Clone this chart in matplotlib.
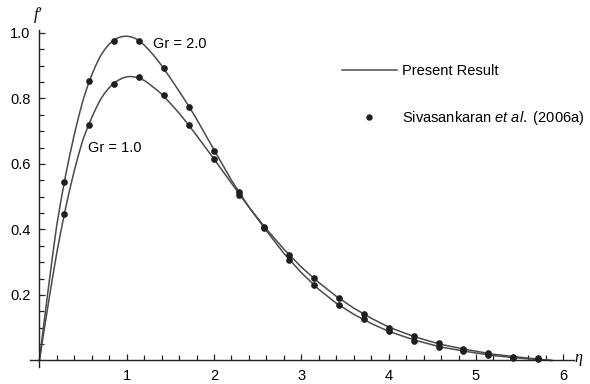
import numpy as np
import matplotlib
matplotlib.use("Agg")
import matplotlib.pyplot as plt
from matplotlib.lines import Line2D

plt.rcParams['font.family'] = ['Liberation Sans', 'DejaVu Sans']
plt.rcParams['mathtext.fontset'] = 'custom'
plt.rcParams['mathtext.rm'] = 'Liberation Sans'
plt.rcParams['mathtext.it'] = 'Liberation Sans:italic'

# present result curves
eta_line = [0, 0.05, 0.1, 0.15, 0.2, 0.25, 0.3, 0.35, 0.4, 0.45, 0.5, 0.55, 0.6,
            0.65, 0.7, 0.75, 0.8, 0.85, 0.9, 0.95, 1.0, 1.05, 1.1, 1.15, 1.2, 1.25,
            1.3, 1.35, 1.4, 1.5, 1.6, 1.7, 1.8, 1.9, 2.0, 2.2, 2.4, 2.6, 2.8, 3.0,
            3.2, 3.4, 3.6, 3.8, 4.0, 4.3, 4.6, 4.9, 5.2, 5.5, 5.87]
f_gr2_line = [0, 0.11, 0.215, 0.318, 0.415, 0.493, 0.565, 0.63, 0.69, 0.745, 0.795,
              0.836, 0.872, 0.903, 0.93, 0.95, 0.966, 0.977, 0.985, 0.989, 0.99,
              0.988, 0.983, 0.974, 0.963, 0.949, 0.934, 0.918, 0.9, 0.862, 0.822,
              0.781, 0.737, 0.69, 0.643, 0.55, 0.468, 0.396, 0.327, 0.268, 0.217,
              0.175, 0.141, 0.113, 0.089, 0.062, 0.041, 0.027, 0.015, 0.007, 0.0]
f_gr1_line = [0, 0.086, 0.17, 0.252, 0.33, 0.4, 0.465, 0.525, 0.58, 0.63, 0.675,
              0.71, 0.742, 0.771, 0.797, 0.817, 0.833, 0.846, 0.855, 0.862, 0.866,
              0.867, 0.865, 0.861, 0.855, 0.846, 0.835, 0.825, 0.813, 0.785, 0.755,
              0.722, 0.687, 0.651, 0.615, 0.541, 0.468, 0.401, 0.34, 0.285, 0.238,
              0.196, 0.16, 0.129, 0.102, 0.072, 0.049, 0.033, 0.019, 0.01, 0.0]

# Sivasankaran et al. (2006a) points
eta_pts = [0.286, 0.571, 0.857, 1.143, 1.429, 1.714, 2.0, 2.286, 2.571, 2.857,
           3.143, 3.429, 3.714, 4.0, 4.286, 4.571, 4.857, 5.143, 5.429, 5.714]
f_gr2_pts = [0.545, 0.853, 0.976, 0.976, 0.892, 0.775, 0.64, 0.514, 0.405, 0.307,
             0.23, 0.169, 0.126, 0.090, 0.060, 0.040, 0.030, 0.016, 0.008, 0.005]
f_gr1_pts = [0.447, 0.718, 0.843, 0.864, 0.81, 0.719, 0.615, 0.505, 0.408, 0.322,
             0.251, 0.19, 0.141, 0.100, 0.076, 0.052, 0.035, 0.022, 0.012, 0.007]

line_col = '#4a4a4a'
dot_col = '#1e1e1e'

fig = plt.figure(figsize=(5.9, 3.84), dpi=100)
ax = fig.add_axes([0.0505, 0.045, 0.922, 0.877])

ax.plot(eta_line, f_gr2_line, color=line_col, lw=1.1)
ax.plot(eta_line, f_gr1_line, color=line_col, lw=1.1)
ax.plot(eta_pts, f_gr2_pts, 'o', color=dot_col, ms=3.8)
ax.plot(eta_pts, f_gr1_pts, 'o', color=dot_col, ms=3.8)

ax.set_xlim(-0.11, 6.12)
ax.set_ylim(-0.019, 1.009)
ax.spines['top'].set_visible(False)
ax.spines['right'].set_visible(False)
ax.spines['left'].set_position(('data', 0))
ax.spines['bottom'].set_position(('data', 0))
for s in ('left', 'bottom'):
    ax.spines[s].set_color('#222222')
    ax.spines[s].set_linewidth(1.0)

ax.set_xticks([1, 2, 3, 4, 5, 6])
ax.set_xticks(np.arange(0.2, 6.01, 0.2), minor=True)
ax.set_yticks([0.2, 0.4, 0.6, 0.8, 1.0])
ax.set_yticks(np.arange(0.05, 1.001, 0.05), minor=True)
ax.set_yticklabels(['0.2', '0.4', '0.6', '0.8', '1.0'])
ax.tick_params(which='both', direction='in', color='#222222', width=0.9)
ax.tick_params(which='major', length=4.5, labelsize=10.5)
ax.tick_params(axis='x', which='major', pad=6)
ax.tick_params(axis='y', which='major', pad=6.5)
ax.tick_params(which='minor', length=3.5)

ax.text(1.3, 0.965, 'Gr = 2.0', fontsize=10.5, va='center', ha='left')
ax.text(0.56, 0.65, 'Gr = 1.0', fontsize=10.5, va='center', ha='left')

fig.text(38 / 590, 1 - 15 / 384, 'f\u2032', fontsize=12, style='italic',
         family=['Liberation Serif', 'DejaVu Serif'], ha='center', va='center')
fig.text(578 / 590, 1 - 358 / 384, '\u03b7', fontsize=11.5, style='italic',
         family=['Liberation Serif', 'DejaVu Serif'], ha='center', va='center')

handles = [Line2D([], [], color=line_col, lw=1.1),
           Line2D([], [], ls='none', marker='o', color=dot_col, ms=3.6)]
labels = ['Present Result', 'Sivasankaran $\\mathit{et\\ al.}$ (2006a)']
ax.legend(handles, labels, loc='center left', frameon=False, fontsize=10.5,
          bbox_to_anchor=(341.7 / 590, 1 - 95.5 / 384),
          bbox_transform=fig.transFigure, borderpad=0, borderaxespad=0,
          handlelength=3.8, handletextpad=0.35, labelspacing=2.1, numpoints=1)

fig.savefig('out.png', dpi=100)
